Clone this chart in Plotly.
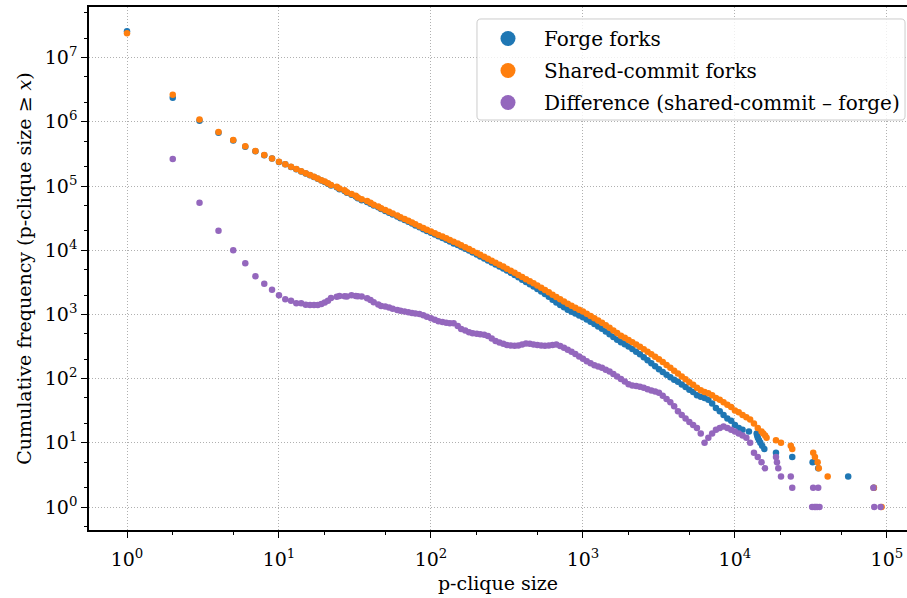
import plotly.graph_objects as go

# ---------------- data ----------------
sizes = list(range(1, 20)) + [
    20, 21, 22, 24, 25, 27, 28, 30, 32, 33,
    35, 38, 40, 42, 45, 47, 50, 53, 56, 60,
    63, 67, 71, 75, 79, 84, 89, 94, 100, 106,
    112, 119, 126, 133, 141, 150, 158, 168, 178, 188,
    200, 211, 224, 237, 251, 266, 282, 299, 316, 335,
    355, 376, 398, 422, 447, 473, 501, 531, 562, 596,
    631, 668, 708, 750, 794, 841, 891, 944, 1000, 1059,
    1122, 1189, 1259, 1334, 1413, 1496, 1585, 1679, 1778, 1884,
    1995, 2113, 2239, 2371, 2512, 2661, 2818, 2985, 3162, 3350,
    3548, 3758, 3981, 4217, 4467, 4732, 5012, 5309, 5623, 5957,
    6310, 6683, 7079, 7499, 7943, 8414, 8913, 9441, 10000, 10593,
    11220, 11885, 12589, 13335, 14125, 14962]

shared_counts = [
    2.39e7, 2.64e6, 1.09e6, 6.93e5, 5.21e5, 4.15e5, 3.51e5, 3.04e5, 2.69e5, 2.39e5,
    2.19e5, 1.99e5, 1.84e5, 1.70e5, 1.58e5, 1.48e5, 1.39e5, 1.31e5, 1.23e5,
    117200, 110400, 103500, 97270, 91200, 85500, 80170, 75200, 70500, 66100,
    62100, 58200, 54600, 51200, 48000, 45000, 42300, 39600, 37200, 34800,
    32700, 30600, 28700, 27000, 25300, 23700, 22200, 20800, 19600, 18400,
    17300, 16300, 15300, 14400, 13500, 12700, 11900, 11100, 10400, 9750,
    9080, 8470, 7890, 7360, 6860, 6380, 5960, 5550, 5150, 4780,
    4440, 4110, 3820, 3540, 3290, 3050, 2830, 2600, 2400, 2210,
    2030, 1875, 1726, 1592, 1466, 1358, 1271, 1186, 1107, 1023,
    944, 871, 804, 743, 679, 618, 562, 512, 467, 432,
    398, 368, 340, 314, 287, 262, 239, 219, 200, 181,
    163, 148, 133, 120, 108, 98, 88, 80, 72, 66,
    62, 59, 55, 50, 47, 43, 39, 36, 32, 30,
    27, 25, 23, 20, 17, 15]

forge_counts = [
    2.57e7, 2.37e6, 1.035e6, 6.73e5, 5.11e5, 4.09e5, 3.47e5, 3.01e5, 2.67e5, 2.37e5,
    2.173e5, 1.974e5, 1.825e5, 1.685e5, 1.566e5, 1.466e5, 1.376e5, 1.296e5, 1.215e5,
    115700, 108800, 101700, 95390, 89260, 83590, 78270, 73200, 68570, 64190,
    60200, 56410, 52920, 49650, 46570, 43650, 40970, 38320, 35980, 33630,
    31560, 29490, 27620, 25950, 24270, 22680, 21230, 19880, 18730, 17570,
    16520, 15540, 14560, 13670, 12770, 12040, 11310, 10540, 9873, 9239,
    8581, 7981, 7408, 6898, 6438, 5995, 5596, 5202, 4817, 4451,
    4116, 3783, 3480, 3188, 2942, 2710, 2497, 2272, 2076, 1883,
    1697, 1534, 1403, 1289, 1185, 1097, 1030, 965, 904, 836,
    771, 710, 650, 596, 541, 489, 444, 404, 368, 342,
    316, 290, 263, 239, 215, 194, 174, 156, 140, 127,
    115, 105, 96, 89, 81, 74, 67, 62, 55, 52,
    50, 47, 41, 35, 31, 27, 24, 22, 19, 17,
    16, None, None, None, None, None]

diff_counts = [
    None, 2.63e5, 5.5e4, 2.01e4, 1.0e4, 6250, 3920, 3000, 2430, 1986,
    1720, 1633, 1496, 1489, 1416, 1400, 1400, 1400, 1455,
    1528, 1637, 1799, 1884, 1936, 1910, 1905, 1995, 1928, 1910,
    1905, 1791, 1679, 1549, 1429, 1355, 1327, 1282, 1225, 1172,
    1138, 1107, 1076, 1052, 1033, 1016, 971, 923, 875, 828,
    785, 759, 741, 726, 726, 662, 594, 560, 527, 511,
    499, 489, 482, 462, 422, 385, 364, 348, 333, 329,
    324, 327, 340, 352, 348, 340, 333, 328, 324, 327,
    333, 341, 323, 303, 281, 261, 241, 221, 203, 187,
    173, 161, 154, 147, 138, 129, 118, 108, 99, 90,
    82, 78, 77, 75, 72, 68, 65, 63, 60, 54,
    48, 43, 37, 31, 27, 24, 21, 19, 17, 14,
    10, 12, 14, 16, 17, 18, 17, 16, 15, 14,
    13, 12, 10, 7, 6, 5]

forge_tail_sizes = [12360, 13900, 14000, 14150, 14400, 14700, 15100, 15600,
                    18620, 23820, 32430, 35320, 55590, 82040]
forge_tail_counts = [15, 14, 13, 12, 11, 10, 9, 8, 7, 6, 5, 4, 3, 2]

shared_tail_sizes = [15350, 15800, 16150, 18620, 20090, 23300, 23820, 32730,
                     33600, 35000, 35600, 40740, 82040, 92250]
shared_tail_counts = [14, 13, 12, 11, 10, 9, 8, 7, 6, 5, 4, 3, 2, 1]

diff_tail_sizes = [15740, 18620, 18900, 19280, 20090, 23300, 23820, 32200, 32700,
                   33300, 34000, 34800, 35300, 36000, 81500, 82500, 90800]
diff_tail_counts = [4, 6, 5, 4, 3, 3, 2, 1, 2, 1, 1, 1, 2, 1, 2, 1, 1]

series_names = ["Forge forks", "Shared-commit forks", "Difference (shared-commit \u2013 forge)"]
series_colors = ["#1f77b4", "#ff7f0e", "#9467bd"]

x_tickvals = [1, 10, 100, 1000, 10000, 100000]
x_ticktext = ["10<sup>0</sup>", "10<sup>1</sup>", "10<sup>2</sup>", "10<sup>3</sup>",
              "10<sup>4</sup>", "10<sup>5</sup>"]
y_tickvals = [1, 10, 100, 1000, 1e4, 1e5, 1e6, 1e7]
y_ticktext = ["10<sup>%d</sup>" % i for i in range(8)]

# ---------------- figure ----------------
FONT = "'DejaVu Serif', 'Liberation Serif', serif"
fig = go.Figure()

series = [
    (sizes, forge_counts, forge_tail_sizes, forge_tail_counts),
    (sizes, shared_counts, shared_tail_sizes, shared_tail_counts),
    (sizes, diff_counts, diff_tail_sizes, diff_tail_counts),
]
for i, (xs, ys, txs, tys) in enumerate(series):
    fig.add_trace(go.Scatter(
        x=list(xs) + list(txs), y=list(ys) + list(tys), mode="markers",
        marker=dict(size=6.5, color=series_colors[i], line=dict(width=0)),
        name=series_names[i], showlegend=False, legendgroup=str(i)))
# legend entries with larger symbols
for i in range(3):
    fig.add_trace(go.Scatter(
        x=[None], y=[None], mode="markers",
        marker=dict(size=15, color=series_colors[i]),
        name=series_names[i], showlegend=True, legendgroup=str(i)))

# rounded legend frame
x0, x1 = 0.4743, 0.9976
y0, y1 = 0.7839, 0.9771
rx, ry = 0.0049, 0.0077
path = (f"M {x0+rx},{y1} L {x1-rx},{y1} Q {x1},{y1} {x1},{y1-ry} "
        f"L {x1},{y0+ry} Q {x1},{y0} {x1-rx},{y0} L {x0+rx},{y0} "
        f"Q {x0},{y0} {x0},{y0+ry} L {x0},{y1-ry} Q {x0},{y1} {x0+rx},{y1} Z")
fig.add_shape(type="path", path=path, xref="paper", yref="paper",
              fillcolor="rgba(255,255,255,0.8)", line=dict(color="#cccccc", width=1),
              layer="above")

axis_common = dict(
    type="log", automargin=False, showline=True, mirror=True, linecolor="black", linewidth=1.5,
    ticks="outside", ticklen=6, tickwidth=1.2, tickcolor="black",
    showgrid=True, gridcolor="#b0b0b0", gridwidth=1, griddash="1px,2px",
    zeroline=False, tickfont=dict(family=FONT, size=19, color="black"),
    minor=dict(ticks="outside", ticklen=3.5, tickwidth=1, tickcolor="black", showgrid=False),
)

fig.update_layout(
    width=907, height=598,
    margin=dict(l=89, r=0, t=7, b=68, autoexpand=False),
    paper_bgcolor="white", plot_bgcolor="white",
    font=dict(family=FONT, color="black"),
    hovermode=False,
    xaxis=dict(axis_common, range=[-0.25, 5.132], tickvals=x_tickvals, ticktext=x_ticktext,
               ticklabelstandoff=5,
               title=dict(text="p-clique size", font=dict(family=FONT, size=19), standoff=8)),
    yaxis=dict(axis_common, range=[-0.358, 7.788], tickvals=y_tickvals, ticktext=y_ticktext,
               title=dict(text="Cumulative frequency (p-clique size \u2265 <i>x</i>)",
                          font=dict(family=FONT, size=19), standoff=8)),
    legend=dict(x=0.4682, y=0.9771, xanchor="left", yanchor="top",
                bgcolor="rgba(0,0,0,0)", borderwidth=0, itemwidth=62,
                font=dict(family=FONT, size=20, color="black"),
                tracegroupgap=3),
    showlegend=True,
)

fig.write_html("out.html",
               config={"displayModeBar": False},
               post_script="document.body.style.margin='0px';document.body.style.overflow='hidden';")
